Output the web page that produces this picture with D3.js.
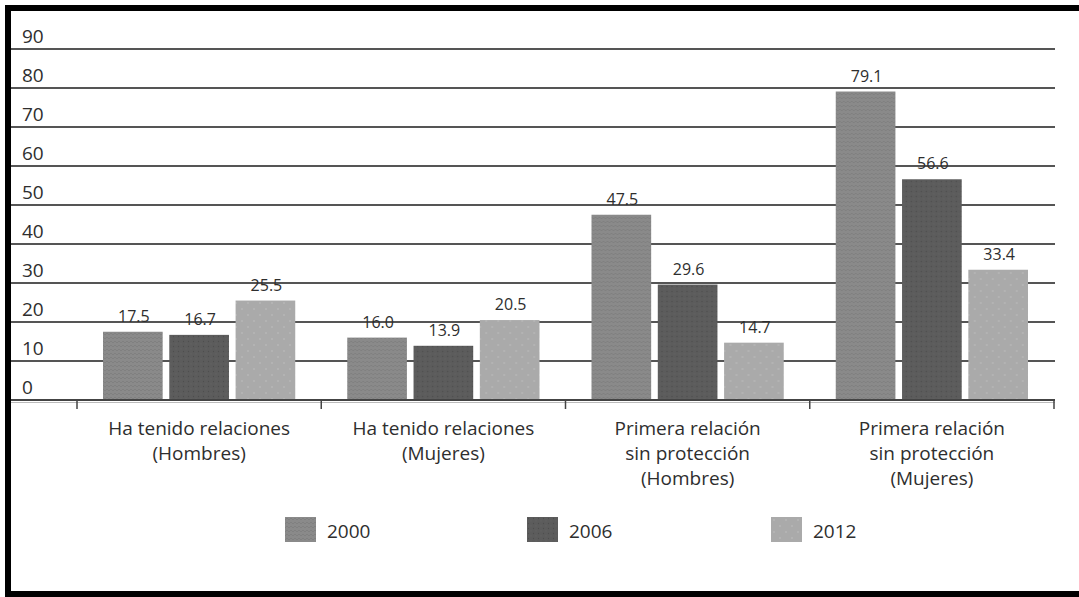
<!DOCTYPE html>
<html><head><meta charset="utf-8">
<script src="https://cdn.jsdelivr.net/npm/d3@7"></script>
<style>html,body{margin:0;padding:0;background:#fff;} svg{display:block;}</style>
</head><body>
<svg id="chart" width="1079" height="597"></svg>
<script>
const categories = [
  ["Ha tenido relaciones", "(Hombres)"],
  ["Ha tenido relaciones", "(Mujeres)"],
  ["Primera relación", "sin protección", "(Hombres)"],
  ["Primera relación", "sin protección", "(Mujeres)"]
];
const years = ["2000", "2006", "2012"];
const values2000 = [17.5, 16.0, 47.5, 79.1];
const values2006 = [16.7, 13.9, 29.6, 56.6];
const values2012 = [25.5, 20.5, 14.7, 33.4];
const yTicks = [0, 10, 20, 30, 40, 50, 60, 70, 80, 90];

const series = [values2000, values2006, values2012];
const colors = ["#8a8a8a", "#5c5c5c", "#aaaaaa"];
const font = "'Open Sans', sans-serif";
const textColor = "#2e2e2e";

const svg = d3.select("#chart");
const defs = svg.append("defs");
// subtle textures
const p0 = defs.append("pattern").attr("id","pat0").attr("width",4).attr("height",4).attr("patternUnits","userSpaceOnUse");
p0.append("rect").attr("width",4).attr("height",4).attr("fill",colors[0]);
p0.append("path").attr("d","M0,3 L2,1 L4,3").attr("stroke","#7e7e7e").attr("stroke-width",0.8).attr("fill","none");
const p1 = defs.append("pattern").attr("id","pat1").attr("width",5).attr("height",5).attr("patternUnits","userSpaceOnUse");
p1.append("rect").attr("width",5).attr("height",5).attr("fill",colors[1]);
p1.append("circle").attr("cx",1.5).attr("cy",1.5).attr("r",0.7).attr("fill","#4e4e4e");
p1.append("circle").attr("cx",4).attr("cy",3.8).attr("r",0.6).attr("fill","#666");
const p2 = defs.append("pattern").attr("id","pat2").attr("width",12).attr("height",12).attr("patternUnits","userSpaceOnUse");
p2.append("rect").attr("width",12).attr("height",12).attr("fill",colors[2]);
p2.append("circle").attr("cx",3).attr("cy",3).attr("r",0.7).attr("fill","#c4c4c4");
p2.append("circle").attr("cx",9).attr("cy",9).attr("r",0.7).attr("fill","#c4c4c4");
const fills = ["url(#pat0)", "url(#pat1)", "url(#pat2)"];

// frame
svg.append("rect").attr("x",5).attr("y",5).attr("width",1079).attr("height",6).attr("fill","#000");
svg.append("rect").attr("x",5).attr("y",5).attr("width",6).attr("height",592).attr("fill","#000");
svg.append("rect").attr("x",5).attr("y",591).attr("width",1079).attr("height",6).attr("fill","#000");

const y = d3.scaleLinear().domain([0, 90]).range([400, 49]);
const x0 = d3.scaleBand().domain(d3.range(categories.length)).range([77, 1054]).padding(0);
const x1 = d3.scaleBand().domain(d3.range(years.length)).range([26, x0.bandwidth() - 26]).paddingInner(0.1);

// gridlines
svg.append("g").selectAll("line").data(yTicks.filter(t => t > 0)).join("line")
  .attr("x1", 11).attr("x2", 1055)
  .attr("y1", d => y(d)).attr("y2", d => y(d))
  .attr("stroke", "#555").attr("stroke-width", 2);

// y labels
svg.append("g").selectAll("text").data(yTicks).join("text")
  .attr("x", 22).attr("y", d => y(d) - 6)
  .attr("font-family", font).attr("font-size", 19).attr("fill", textColor)
  .text(d => d);

// bars
const groups = svg.append("g").selectAll("g").data(categories).join("g")
  .attr("transform", (d, i) => `translate(${x0(i)},0)`);
groups.selectAll("rect").data((d, i) => series.map((s, k) => ({k, v: s[i]}))).join("rect")
  .attr("x", d => x1(d.k)).attr("width", x1.bandwidth())
  .attr("y", d => y(d.v)).attr("height", d => y(0) - y(d.v))
  .attr("fill", d => fills[d.k]);
groups.selectAll("text.val").data((d, i) => series.map((s, k) => ({k, v: s[i]}))).join("text")
  .attr("class", "val")
  .attr("x", d => x1(d.k) + x1.bandwidth() / 2 + 1).attr("y", d => y(d.v) - 10)
  .attr("text-anchor", "middle").attr("font-family", font).attr("font-size", 16).attr("fill", textColor)
  .text(d => d.v.toFixed(1));

// baseline (x axis)
svg.append("line").attr("x1", 11).attr("x2", 1055).attr("y1", y(0)).attr("y2", y(0))
  .attr("stroke", "#444").attr("stroke-width", 2);
svg.append("line").attr("x1", 11).attr("x2", 1055).attr("y1", y(0) + 2.5).attr("y2", y(0) + 2.5)
  .attr("stroke", "#bbb").attr("stroke-width", 1);
const tickXs = d3.range(categories.length + 1).map(i => i < categories.length ? x0(i) : x0.range()[1]);
svg.append("g").selectAll("line").data(tickXs).join("line")
  .attr("x1", d => d).attr("x2", d => d).attr("y1", y(0)).attr("y2", y(0) + 9)
  .attr("stroke", "#444").attr("stroke-width", 1.5);

// category labels
const catLabels = svg.append("g").selectAll("text").data(categories).join("text")
  .attr("x", (d, i) => x0(i) + x0.bandwidth() / 2).attr("y", 435)
  .attr("text-anchor", "middle").attr("font-family", font).attr("font-size", 19).attr("fill", textColor);
catLabels.selectAll("tspan").data(d => d).join("tspan")
  .attr("x", function () { return d3.select(this.parentNode).attr("x"); })
  .attr("dy", (d, j) => j === 0 ? 0 : 25)
  .text(d => d);

// legend
const legendX = [285, 527, 771];
const leg = svg.append("g").selectAll("g").data(years).join("g")
  .attr("transform", (d, i) => `translate(${legendX[i]},517)`);
leg.append("rect").attr("width", 31).attr("height", 25).attr("fill", (d, i) => fills[i]);
leg.append("text").attr("x", 42).attr("y", 21).attr("font-family", font).attr("font-size", 19).attr("fill", textColor).text(d => d);
</script>
</body></html>
